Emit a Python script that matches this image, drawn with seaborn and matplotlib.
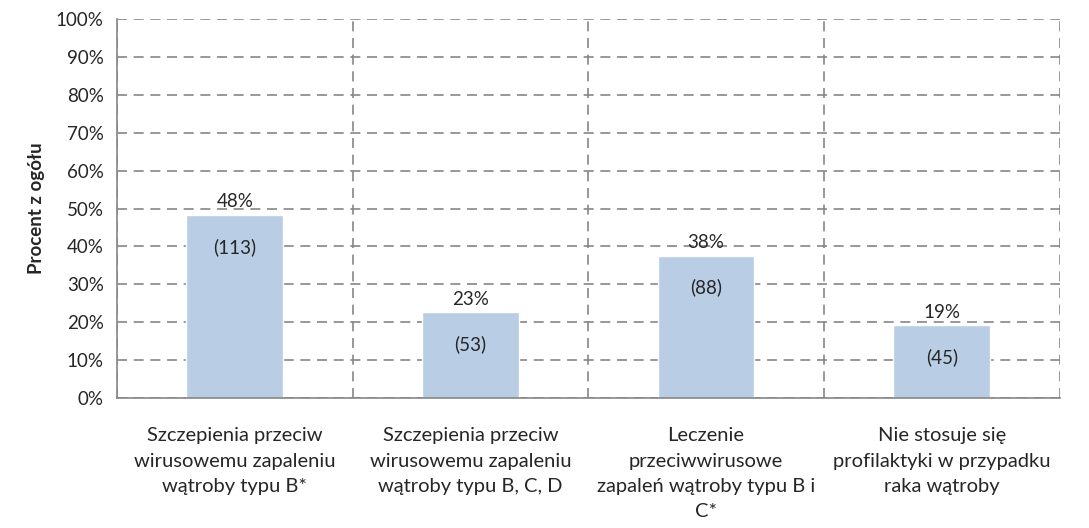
import numpy as np
import pandas as pd
import seaborn as sns
import matplotlib.pyplot as plt
from matplotlib.ticker import FixedLocator, PercentFormatter

# Data
categories = [
    "Szczepienia przeciw\nwirusowemu zapaleniu\nwątroby typu B*",
    "Szczepienia przeciw\nwirusowemu zapaleniu\nwątroby typu B, C, D",
    "Leczenie\nprzeciwwirusowe\nzapaleń wątroby typu B i\nC*",
    "Nie stosuje się\nprofilaktyki w przypadku\nraka wątroby",
]
counts = [113, 53, 88, 45]
percent = [48.3, 22.6, 37.6, 19.2]
pct_labels = ["48%", "23%", "38%", "19%"]

df = pd.DataFrame({"kategoria": categories, "procent": percent, "n": counts})

sns.set_style("white")
plt.rcParams['font.family'] = ['Lato', 'DejaVu Sans']
fs = 13.5

fig = plt.figure(figsize=(10.89, 5.28), dpi=100)
ax = fig.add_axes([0.1074, 0.246, 0.8656, 0.718])

grid_col = "#868686"
sns.barplot(data=df, x="kategoria", y="procent", color="#B9CDE5",
            width=0.41, saturation=1, ax=ax, zorder=3)

ax.set_xlim(-0.5, 3.5)
ax.set_ylim(0, 100)
ax.set_yticks(np.arange(0, 101, 10))
ax.yaxis.set_major_formatter(PercentFormatter(decimals=0))
ax.yaxis.grid(True, linestyle=(0, (6, 4)), color=grid_col, linewidth=1.2, zorder=0)

# vertical dashed lines between categories
ax.xaxis.set_minor_locator(FixedLocator([-0.5, 0.5, 1.5, 2.5, 3.5]))
ax.xaxis.grid(True, which="minor", linestyle=(0, (6, 4)), color=grid_col,
              linewidth=1.2, zorder=0)
ax.tick_params(axis="x", which="major", length=0, pad=21, labelsize=14.5)
ax.tick_params(axis="x", which="minor", length=6, color=grid_col, width=1.2, direction="out")
ax.tick_params(axis="y", length=6, color=grid_col, width=1.2, direction="out", labelsize=fs)
for t in ax.get_xticklabels():
    t.set_linespacing(1.6)

for s in ["top", "right"]:
    ax.spines[s].set_visible(False)
for s in ["left", "bottom"]:
    ax.spines[s].set_color(grid_col)
    ax.spines[s].set_linewidth(1.2)
    ax.spines[s].set_zorder(4)

ax.set_xlabel("")
ax.set_ylabel("Procent z ogółu", fontsize=fs, fontweight="bold", labelpad=8)

for i, (p, lab, n) in enumerate(zip(percent, pct_labels, counts)):
    ax.text(i, p + 1.2, lab, ha="center", va="bottom", fontsize=fs, zorder=5)
    ax.text(i, p - 6.0, f"({n})", ha="center", va="top", fontsize=fs, zorder=5)

fig.savefig("out.png", dpi=100)
